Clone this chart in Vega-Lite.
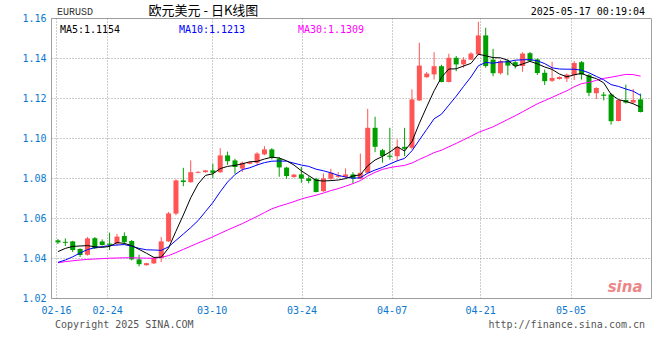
{
  "$schema": "https://vega.github.io/schema/vega-lite/v6.json",
  "width": 600,
  "height": 280,
  "autosize": "none",
  "padding": {"left": 51, "top": 18, "right": 9, "bottom": 62},
  "background": "white",
  "config": {
    "view": {"stroke": "#a0a0a0", "strokeWidth": 1},
    "axis": {"labelOverlap": false, "labelFlush": false, "grid": true, "gridDash": [1, 2], "gridColor": "#999999", "gridOpacity": 1, "domain": false, "ticks": false, "title": null, "labelColor": "#0a78d0", "labelFont": "DejaVu Sans Mono", "labelFontSize": 10}
  },
  "data": {"values": [
    {"i":0,"o":1.0488,"h":1.0495,"l":1.0470,"c":1.0478,"ma5":1.0432,"ma10":1.0378,"ma30":1.0376},
    {"i":1,"o":1.0481,"h":1.0498,"l":1.0460,"c":1.0476,"ma5":1.0448,"ma10":1.0390,"ma30":1.0382},
    {"i":2,"o":1.0483,"h":1.0486,"l":1.0430,"c":1.0440,"ma5":1.0458,"ma10":1.0406,"ma30":1.0386},
    {"i":3,"o":1.0445,"h":1.0448,"l":1.0405,"c":1.0415,"ma5":1.0460,"ma10":1.0425,"ma30":1.0390},
    {"i":4,"o":1.0416,"h":1.0505,"l":1.0412,"c":1.0498,"ma5":1.0462,"ma10":1.0442,"ma30":1.0393},
    {"i":5,"o":1.0499,"h":1.0505,"l":1.0445,"c":1.0448,"ma5":1.0456,"ma10":1.0452,"ma30":1.0395},
    {"i":6,"o":1.0483,"h":1.0493,"l":1.0462,"c":1.0465,"ma5":1.0453,"ma10":1.0457,"ma30":1.0397},
    {"i":7,"o":1.0472,"h":1.0527,"l":1.0440,"c":1.0466,"ma5":1.0458,"ma10":1.0462,"ma30":1.0399},
    {"i":8,"o":1.0473,"h":1.0520,"l":1.0462,"c":1.0507,"ma5":1.0477,"ma10":1.0465,"ma30":1.0400},
    {"i":9,"o":1.0510,"h":1.0528,"l":1.0468,"c":1.0479,"ma5":1.0473,"ma10":1.0467,"ma30":1.0401},
    {"i":10,"o":1.0485,"h":1.0490,"l":1.0388,"c":1.0393,"ma5":1.0462,"ma10":1.0459,"ma30":1.0401},
    {"i":11,"o":1.0393,"h":1.0417,"l":1.0358,"c":1.0369,"ma5":1.0443,"ma10":1.0448,"ma30":1.0400},
    {"i":12,"o":1.0364,"h":1.0376,"l":1.0362,"c":1.0374,"ma5":1.0424,"ma10":1.0441,"ma30":1.0399},
    {"i":13,"o":1.0373,"h":1.0405,"l":1.0370,"c":1.0400,"ma5":1.0403,"ma10":1.0440,"ma30":1.0399},
    {"i":14,"o":1.0400,"h":1.0505,"l":1.0380,"c":1.0483,"ma5":1.0404,"ma10":1.0438,"ma30":1.0403},
    {"i":15,"o":1.0483,"h":1.0630,"l":1.0480,"c":1.0623,"ma5":1.0450,"ma10":1.0456,"ma30":1.0412},
    {"i":16,"o":1.0622,"h":1.0793,"l":1.0614,"c":1.0788,"ma5":1.0534,"ma10":1.0488,"ma30":1.0427},
    {"i":17,"o":1.0788,"h":1.0851,"l":1.0759,"c":1.0780,"ma5":1.0615,"ma10":1.0520,"ma30":1.0443},
    {"i":18,"o":1.0779,"h":1.0888,"l":1.0776,"c":1.0829,"ma5":1.0701,"ma10":1.0552,"ma30":1.0459},
    {"i":19,"o":1.0826,"h":1.0833,"l":1.0824,"c":1.0831,"ma5":1.0770,"ma10":1.0587,"ma30":1.0475},
    {"i":20,"o":1.0829,"h":1.0840,"l":1.0827,"c":1.0838,"ma5":1.0813,"ma10":1.0632,"ma30":1.0490},
    {"i":21,"o":1.0838,"h":1.0871,"l":1.0801,"c":1.0826,"ma5":1.0821,"ma10":1.0677,"ma30":1.0506},
    {"i":22,"o":1.0829,"h":1.0949,"l":1.0826,"c":1.0913,"ma5":1.0847,"ma10":1.0731,"ma30":1.0523},
    {"i":23,"o":1.0913,"h":1.0932,"l":1.0866,"c":1.0884,"ma5":1.0858,"ma10":1.0780,"ma30":1.0540},
    {"i":24,"o":1.0888,"h":1.0896,"l":1.0821,"c":1.0855,"ma5":1.0863,"ma10":1.0817,"ma30":1.0556},
    {"i":25,"o":1.0847,"h":1.0882,"l":1.0830,"c":1.0876,"ma5":1.0871,"ma10":1.0842,"ma30":1.0572},
    {"i":26,"o":1.0871,"h":1.0883,"l":1.0868,"c":1.0879,"ma5":1.0881,"ma10":1.0851,"ma30":1.0590},
    {"i":27,"o":1.0876,"h":1.0929,"l":1.0863,"c":1.0922,"ma5":1.0883,"ma10":1.0865,"ma30":1.0608},
    {"i":28,"o":1.0918,"h":1.0959,"l":1.0914,"c":1.0943,"ma5":1.0895,"ma10":1.0877,"ma30":1.0627},
    {"i":29,"o":1.0943,"h":1.0949,"l":1.0893,"c":1.0901,"ma5":1.0904,"ma10":1.0884,"ma30":1.0646},
    {"i":30,"o":1.0897,"h":1.0905,"l":1.0806,"c":1.0853,"ma5":1.0900,"ma10":1.0885,"ma30":1.0659},
    {"i":31,"o":1.0852,"h":1.0856,"l":1.0796,"c":1.0810,"ma5":1.0886,"ma10":1.0884,"ma30":1.0670},
    {"i":32,"o":1.0805,"h":1.0820,"l":1.0800,"c":1.0817,"ma5":1.0865,"ma10":1.0874,"ma30":1.0682},
    {"i":33,"o":1.0818,"h":1.0856,"l":1.0776,"c":1.0797,"ma5":1.0836,"ma10":1.0865,"ma30":1.0695},
    {"i":34,"o":1.0798,"h":1.0809,"l":1.0773,"c":1.0785,"ma5":1.0812,"ma10":1.0858,"ma30":1.0705},
    {"i":35,"o":1.0796,"h":1.0801,"l":1.0728,"c":1.0730,"ma5":1.0788,"ma10":1.0844,"ma30":1.0714},
    {"i":36,"o":1.0734,"h":1.0823,"l":1.0731,"c":1.0798,"ma5":1.0785,"ma10":1.0836,"ma30":1.0725},
    {"i":37,"o":1.0796,"h":1.0846,"l":1.0791,"c":1.0826,"ma5":1.0787,"ma10":1.0826,"ma30":1.0737},
    {"i":38,"o":1.0806,"h":1.0829,"l":1.0801,"c":1.0813,"ma5":1.0790,"ma10":1.0813,"ma30":1.0747},
    {"i":39,"o":1.0806,"h":1.0848,"l":1.0798,"c":1.0818,"ma5":1.0797,"ma10":1.0805,"ma30":1.0759},
    {"i":40,"o":1.0818,"h":1.0829,"l":1.0773,"c":1.0797,"ma5":1.0810,"ma10":1.0799,"ma30":1.0772},
    {"i":41,"o":1.0796,"h":1.0922,"l":1.0793,"c":1.0826,"ma5":1.0816,"ma10":1.0801,"ma30":1.0787},
    {"i":42,"o":1.0826,"h":1.1146,"l":1.0822,"c":1.1051,"ma5":1.0861,"ma10":1.0824,"ma30":1.0810},
    {"i":43,"o":1.1051,"h":1.1106,"l":1.0929,"c":1.0956,"ma5":1.0890,"ma10":1.0840,"ma30":1.0828},
    {"i":44,"o":1.0939,"h":1.0946,"l":1.0876,"c":1.0910,"ma5":1.0908,"ma10":1.0853,"ma30":1.0843},
    {"i":45,"o":1.0912,"h":1.1051,"l":1.0892,"c":1.0906,"ma5":1.0930,"ma10":1.0870,"ma30":1.0852},
    {"i":46,"o":1.0909,"h":1.0993,"l":1.0884,"c":1.0956,"ma5":1.0956,"ma10":1.0886,"ma30":1.0858},
    {"i":47,"o":1.0956,"h":1.1051,"l":1.0909,"c":1.0946,"ma5":1.0935,"ma10":1.0898,"ma30":1.0863},
    {"i":48,"o":1.0951,"h":1.1243,"l":1.0943,"c":1.1193,"ma5":1.0982,"ma10":1.0936,"ma30":1.0875},
    {"i":49,"o":1.1188,"h":1.1476,"l":1.1185,"c":1.1362,"ma5":1.1073,"ma10":1.0990,"ma30":1.0893},
    {"i":50,"o":1.1304,"h":1.1330,"l":1.1301,"c":1.1322,"ma5":1.1156,"ma10":1.1043,"ma30":1.0909},
    {"i":51,"o":1.1318,"h":1.1429,"l":1.1292,"c":1.1359,"ma5":1.1236,"ma10":1.1096,"ma30":1.0927},
    {"i":52,"o":1.1359,"h":1.1366,"l":1.1278,"c":1.1280,"ma5":1.1303,"ma10":1.1119,"ma30":1.0939},
    {"i":53,"o":1.1280,"h":1.1421,"l":1.1278,"c":1.1401,"ma5":1.1345,"ma10":1.1164,"ma30":1.0956},
    {"i":54,"o":1.1401,"h":1.1410,"l":1.1334,"c":1.1368,"ma5":1.1346,"ma10":1.1209,"ma30":1.0973},
    {"i":55,"o":1.1368,"h":1.1404,"l":1.1351,"c":1.1392,"ma5":1.1360,"ma10":1.1258,"ma30":1.0991},
    {"i":56,"o":1.1392,"h":1.1429,"l":1.1390,"c":1.1422,"ma5":1.1373,"ma10":1.1305,"ma30":1.1009},
    {"i":57,"o":1.1418,"h":1.1581,"l":1.1414,"c":1.1513,"ma5":1.1419,"ma10":1.1361,"ma30":1.1028},
    {"i":58,"o":1.1513,"h":1.1551,"l":1.1351,"c":1.1360,"ma5":1.1411,"ma10":1.1378,"ma30":1.1042},
    {"i":59,"o":1.1392,"h":1.1446,"l":1.1309,"c":1.1324,"ma5":1.1402,"ma10":1.1374,"ma30":1.1056},
    {"i":60,"o":1.1324,"h":1.1392,"l":1.1317,"c":1.1384,"ma5":1.1401,"ma10":1.1380,"ma30":1.1074},
    {"i":61,"o":1.1387,"h":1.1392,"l":1.1314,"c":1.1362,"ma5":1.1389,"ma10":1.1381,"ma30":1.1093},
    {"i":62,"o":1.1379,"h":1.1387,"l":1.1347,"c":1.1360,"ma5":1.1358,"ma10":1.1389,"ma30":1.1111},
    {"i":63,"o":1.1360,"h":1.1429,"l":1.1331,"c":1.1422,"ma5":1.1370,"ma10":1.1391,"ma30":1.1131},
    {"i":64,"o":1.1424,"h":1.1430,"l":1.1380,"c":1.1385,"ma5":1.1383,"ma10":1.1392,"ma30":1.1151},
    {"i":65,"o":1.1393,"h":1.1398,"l":1.1315,"c":1.1325,"ma5":1.1371,"ma10":1.1386,"ma30":1.1171},
    {"i":66,"o":1.1326,"h":1.1342,"l":1.1265,"c":1.1284,"ma5":1.1355,"ma10":1.1372,"ma30":1.1187},
    {"i":67,"o":1.1286,"h":1.1381,"l":1.1280,"c":1.1300,"ma5":1.1343,"ma10":1.1351,"ma30":1.1203},
    {"i":68,"o":1.1295,"h":1.1308,"l":1.1292,"c":1.1305,"ma5":1.1320,"ma10":1.1345,"ma30":1.1220},
    {"i":69,"o":1.1297,"h":1.1322,"l":1.1280,"c":1.1317,"ma5":1.1306,"ma10":1.1344,"ma30":1.1236},
    {"i":70,"o":1.1314,"h":1.1385,"l":1.1290,"c":1.1375,"ma5":1.1316,"ma10":1.1344,"ma30":1.1256},
    {"i":71,"o":1.1379,"h":1.1385,"l":1.1292,"c":1.1317,"ma5":1.1323,"ma10":1.1339,"ma30":1.1272},
    {"i":72,"o":1.1314,"h":1.1320,"l":1.1209,"c":1.1226,"ma5":1.1308,"ma10":1.1326,"ma30":1.1278},
    {"i":73,"o":1.1224,"h":1.1254,"l":1.1195,"c":1.1250,"ma5":1.1297,"ma10":1.1308,"ma30":1.1288},
    {"i":74,"o":1.1217,"h":1.1230,"l":1.1188,"c":1.1211,"ma5":1.1276,"ma10":1.1291,"ma30":1.1298},
    {"i":75,"o":1.1218,"h":1.1225,"l":1.1067,"c":1.1084,"ma5":1.1218,"ma10":1.1267,"ma30":1.1304},
    {"i":76,"o":1.1085,"h":1.1193,"l":1.1083,"c":1.1190,"ma5":1.1192,"ma10":1.1258,"ma30":1.1311},
    {"i":77,"o":1.1190,"h":1.1267,"l":1.1172,"c":1.1177,"ma5":1.1183,"ma10":1.1245,"ma30":1.1318},
    {"i":78,"o":1.1177,"h":1.1245,"l":1.1172,"c":1.1190,"ma5":1.1171,"ma10":1.1234,"ma30":1.1317},
    {"i":79,"o":1.1193,"h":1.1222,"l":1.1128,"c":1.1130,"ma5":1.1154,"ma10":1.1213,"ma30":1.1309}
  ]},
  "layer": [
    {
      "mark": {"type": "rule", "strokeWidth": 1},
      "encoding": {
        "x": {
          "field": "i", "type": "quantitative",
          "scale": {"domain": [-0.2667, 79.7333], "nice": false, "zero": false},
          "axis": {
            "values": [-0.2667, 6.67, 20.84, 33.03, 45.24, 57.24, 69.5],
            "labelExpr": "['02-16','02-24','03-10','03-24','04-07','04-21','05-05'][indexof([-0.2667,6.67,20.84,33.03,45.24,57.24,69.5], datum.value)]",
            "labelPadding": 7
          }
        },
        "y": {
          "field": "l", "type": "quantitative",
          "scale": {"domain": [1.02, 1.16], "nice": false, "zero": false},
          "axis": {"tickCount": 7, "format": ".2f", "labelPadding": 5}
        },
        "y2": {"field": "h"},
        "color": {"condition": {"test": "datum.c >= datum.o", "value": "#ff5555"}, "value": "#009f00"}
      }
    },
    {
      "mark": {"type": "bar", "size": 5},
      "encoding": {
        "x": {"field": "i", "type": "quantitative"},
        "y": {"field": "o", "type": "quantitative"},
        "y2": {"field": "c"},
        "color": {"condition": {"test": "datum.c >= datum.o", "value": "#ff5555"}, "value": "#009f00"}
      }
    },
    {
      "mark": {"type": "line", "color": "#ff00ff", "strokeWidth": 1},
      "encoding": {"x": {"field": "i", "type": "quantitative"}, "y": {"field": "ma30", "type": "quantitative"}}
    },
    {
      "mark": {"type": "line", "color": "#0000ff", "strokeWidth": 1},
      "encoding": {"x": {"field": "i", "type": "quantitative"}, "y": {"field": "ma10", "type": "quantitative"}}
    },
    {
      "mark": {"type": "line", "color": "#000000", "strokeWidth": 1},
      "encoding": {"x": {"field": "i", "type": "quantitative"}, "y": {"field": "ma5", "type": "quantitative"}}
    },
    {
      "data": {"values": [{"t": "EURUSD"}]},
      "mark": {"type": "text", "align": "left", "baseline": "middle", "font": "Liberation Mono", "fontSize": 10, "color": "#333333"},
      "encoding": {"x": {"datum": -0.133}, "y": {"datum": 1.163}, "text": {"field": "t"}}
    },
    {
      "data": {"values": [{"t": "欧元美元 - 日K线图"}]},
      "mark": {"type": "text", "align": "center", "baseline": "middle", "font": "Noto Sans CJK SC", "fontSize": 13, "color": "#000000"},
      "encoding": {"x": {"datum": 19.73}, "y": {"datum": 1.1635}, "text": {"field": "t"}}
    },
    {
      "data": {"values": [{"t": "2025-05-17 00:19:04"}]},
      "mark": {"type": "text", "align": "right", "baseline": "middle", "font": "DejaVu Sans Mono", "fontSize": 10, "color": "#000000"},
      "encoding": {"x": {"datum": 79.6}, "y": {"datum": 1.163}, "text": {"field": "t"}}
    },
    {
      "data": {"values": [{"t": "MA5:1.1154"}]},
      "mark": {"type": "text", "align": "left", "baseline": "middle", "font": "DejaVu Sans Mono", "fontSize": 10, "color": "#000000"},
      "encoding": {"x": {"datum": 0.267}, "y": {"datum": 1.154}, "text": {"field": "t"}}
    },
    {
      "data": {"values": [{"t": "MA10:1.1213"}]},
      "mark": {"type": "text", "align": "left", "baseline": "middle", "font": "DejaVu Sans Mono", "fontSize": 10, "color": "#0000ff"},
      "encoding": {"x": {"datum": 16.4}, "y": {"datum": 1.154}, "text": {"field": "t"}}
    },
    {
      "data": {"values": [{"t": "MA30:1.1309"}]},
      "mark": {"type": "text", "align": "left", "baseline": "middle", "font": "DejaVu Sans Mono", "fontSize": 10, "color": "#ff00ff"},
      "encoding": {"x": {"datum": 32.53}, "y": {"datum": 1.154}, "text": {"field": "t"}}
    },
    {
      "data": {"values": [{"t": "Copyright 2025 SINA.COM"}]},
      "mark": {"type": "text", "align": "left", "baseline": "middle", "font": "DejaVu Sans Mono", "fontSize": 10, "color": "#555555"},
      "encoding": {"x": {"datum": -0.4}, "y": {"datum": 1.0065}, "text": {"field": "t"}}
    },
    {
      "data": {"values": [{"t": "http://finance.sina.com.cn"}]},
      "mark": {"type": "text", "align": "right", "baseline": "middle", "font": "DejaVu Sans Mono", "fontSize": 10, "color": "#555555"},
      "encoding": {"x": {"datum": 79.6}, "y": {"datum": 1.0065}, "text": {"field": "t"}}
    },
    {
      "data": {"values": [{"t": "sina"}]},
      "mark": {"type": "text", "align": "center", "baseline": "middle", "font": "DejaVu Sans", "fontSize": 15, "fontWeight": "bold", "fontStyle": "italic", "color": "#e86060", "opacity": 0.75},
      "encoding": {"x": {"datum": 76.9}, "y": {"datum": 1.0255}, "text": {"field": "t"}}
    }
  ]
}
